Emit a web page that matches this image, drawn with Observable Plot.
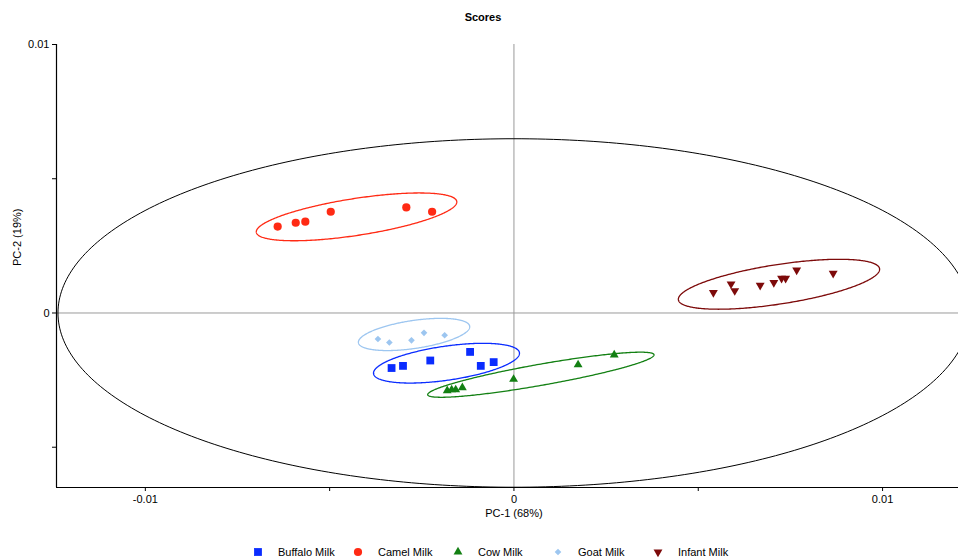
<!DOCTYPE html>
<html>
<head>
<meta charset="utf-8">
<script src="https://cdn.jsdelivr.net/npm/d3@7"></script>
<script src="https://cdn.jsdelivr.net/npm/@observablehq/plot@0.6"></script>
<style>
  html, body { margin: 0; padding: 0; background: #fff; overflow: hidden; }
  #wrap { position: relative; width: 958px; height: 560px; font-family: "Liberation Sans", Arial, sans-serif; color: #000; }
  #title { position: absolute; top: 11px; left: 0; width: 966px; text-align: center; font-weight: bold; font-size: 11px; }
  #chart { position: absolute; top: 0; left: 0; }
  #legend { position: absolute; top: 545px; left: 0; width: 958px; height: 14px; font-size: 11px; }
  .item { position: absolute; top: 0; height: 14px; line-height: 14px; white-space: nowrap; }
  .item svg { position: absolute; left: 0; top: 1px; }
  .item span { position: absolute; left: 26px; top: 0; }
</style>
</head>
<body>
<div id="wrap">
  <div id="title">Scores</div>
  <div id="chart"></div>
  <div id="legend"></div>
</div>
<script>
// Sample groups, in legend order
const groups = ["Buffalo Milk", "Camel Milk", "Cow Milk", "Goat Milk", "Infant Milk"];
const colors = ["#0a2cff", "#ff2a14", "#138013", "#9dc6f0", "#7d0a0a"];

// PCA scores (PC-1, PC-2) per sample group
const buffaloPC1 = [-0.00332, -0.00301, -0.00227, -0.00119, -0.00090, -0.00055];
const buffaloPC2 = [-0.00205, -0.00197, -0.00177, -0.00145, -0.00197, -0.00183];
const camelPC1 = [-0.00641, -0.00592, -0.00566, -0.00497, -0.00292, -0.00222];
const camelPC2 = [0.00322, 0.00336, 0.00340, 0.00377, 0.00393, 0.00377];
const cowPC1 = [-0.00181, -0.00169, -0.00158, -0.00140, -0.00001, 0.00174, 0.00272];
const cowPC2 = [-0.00289, -0.00286, -0.00286, -0.00278, -0.00247, -0.00193, -0.00156];
const goatPC1 = [-0.00369, -0.00338, -0.00278, -0.00244, -0.00188];
const goatPC2 = [-0.00097, -0.00110, -0.00102, -0.00074, -0.00083];
const infantPC1 = [0.00541, 0.00589, 0.00599, 0.00668, 0.00705, 0.00726, 0.00737, 0.00767, 0.00866];
const infantPC2 = [0.00076, 0.00108, 0.00083, 0.00103, 0.00113, 0.00129, 0.00129, 0.00160, 0.00148];

// Group ellipses: centre, half-extent along PC-1 / PC-2, and tilt (cosine of phase)
const ellipseCX = [-0.00183, -0.00427, 0.00073, -0.00271, 0.00719];
const ellipseCY = [-0.00187, 0.00358, -0.00230, -0.00080, 0.00107];
const ellipseAX = [0.00198, 0.00272, 0.00307, 0.00151, 0.00273];
const ellipseAY = [0.00074, 0.00089, 0.00084, 0.00060, 0.00093];
const ellipseTilt = [0.50, 0.625, 0.88, 0.48, 0.60];

// Hotelling T² ellipse
const hotellingAX = 0.01237;
const hotellingAY = 0.00649;

// Axis ticks
const xTicks = [-0.01, -0.005, 0, 0.005, 0.01];
const xTickLabels = ["-0.01", "", "0", "", "0.01"];
const yTicks = [-0.005, 0, 0.005, 0.01];
const yTickLabels = ["", "0", "", "0.01"];
const xDomain = [-0.01241, 0.01206];
const yDomain = [-0.0065, 0.01];
const xLabel = "PC-1 (68%)";
const yLabel = "PC-2 (19%)";

// Downward-pointing triangle symbol
const triangleDown = {
  draw(context, size) {
    const s = Math.sqrt(size * 4 / Math.sqrt(3));
    const h = s * Math.sqrt(3) / 2;
    context.moveTo(-s / 2, -h / 3);
    context.lineTo(s / 2, -h / 3);
    context.lineTo(0, 2 * h / 3);
    context.closePath();
  }
};
const symbols = ["square", "circle", "triangle", "diamond2", triangleDown];
const d3Symbols = [d3.symbolSquare, d3.symbolCircle, d3.symbolTriangle, d3.symbolDiamond2, triangleDown];
const radii = [4.4, 4.1, 3.3, 3.0, 3.3];

const pc1 = [buffaloPC1, camelPC1, cowPC1, goatPC1, infantPC1];
const pc2 = [buffaloPC2, camelPC2, cowPC2, goatPC2, infantPC2];

function ellipse(cx, cy, ax, ay, tilt) {
  const phi = Math.acos(tilt);
  return d3.range(0, 361).map(k => {
    const t = k * Math.PI / 180;
    return {x: cx + ax * Math.cos(t), y: cy + ay * Math.cos(t + phi)};
  });
}

const fmt = (ticks, labels) => d => {
  const i = ticks.findIndex(v => Math.abs(v - d) < 1e-9);
  return i < 0 ? "" : labels[i];
};

const marks = [
  Plot.ruleY([0], {stroke: "#9a9a9a", strokeWidth: 1}),
  Plot.ruleX([0], {stroke: "#9a9a9a", strokeWidth: 1}),
  Plot.line(ellipse(0, 0, hotellingAX, hotellingAY, 0), {x: "x", y: "y", stroke: "#000", strokeWidth: 1, clip: true})
];

groups.forEach((g, i) => {
  marks.push(Plot.line(ellipse(ellipseCX[i], ellipseCY[i], ellipseAX[i], ellipseAY[i], ellipseTilt[i]),
    {x: "x", y: "y", stroke: colors[i], strokeWidth: 1.3}));
});
groups.forEach((g, i) => {
  const pts = pc1[i].map((v, j) => ({x: v, y: pc2[i][j]}));
  marks.push(Plot.dot(pts, {x: "x", y: "y", symbol: symbols[i], fill: colors[i], stroke: "none", r: radii[i]}));
});

marks.push(
  Plot.axisX({ticks: xTicks, tickFormat: fmt(xTicks, xTickLabels), tickSize: 4, tickPadding: 4, label: null}),
  Plot.axisY({ticks: yTicks, tickFormat: fmt(yTicks, yTickLabels), tickSize: 4, tickPadding: 3, label: null}),
  Plot.ruleX([xDomain[0]], {stroke: "#000", strokeWidth: 1.2}),
  Plot.ruleY([yDomain[0]], {stroke: "#000", strokeWidth: 1.2}),
  Plot.text([xLabel], {x: 0, frameAnchor: "bottom", dy: 29, text: d => d}),
  Plot.text([yLabel], {frameAnchor: "left", dx: -39, rotate: -90, text: d => d})
);

const chart = Plot.plot({
  width: 958,
  height: 530,
  marginTop: 44,
  marginLeft: 56,
  marginRight: 0,
  marginBottom: 43,
  x: {domain: xDomain},
  y: {domain: yDomain},
  style: {fontFamily: "'Liberation Sans', Arial, sans-serif", fontSize: "11px", color: "#000", background: "transparent", overflow: "hidden"},
  marks
});
document.getElementById("chart").appendChild(chart);

// Legend
const legend = document.getElementById("legend");
groups.forEach((g, i) => {
  const item = document.createElement("div");
  item.className = "item";
  item.style.left = (252 + 100 * i) + "px";
  const area = Math.PI * radii[i] * radii[i];
  item.innerHTML = `<svg width="12" height="12"><path transform="translate(6,6)" fill="${colors[i]}" d="${d3.symbol(d3Symbols[i], area)()}"></path></svg><span>${g}</span>`;
  legend.appendChild(item);
});
</script>
</body>
</html>
